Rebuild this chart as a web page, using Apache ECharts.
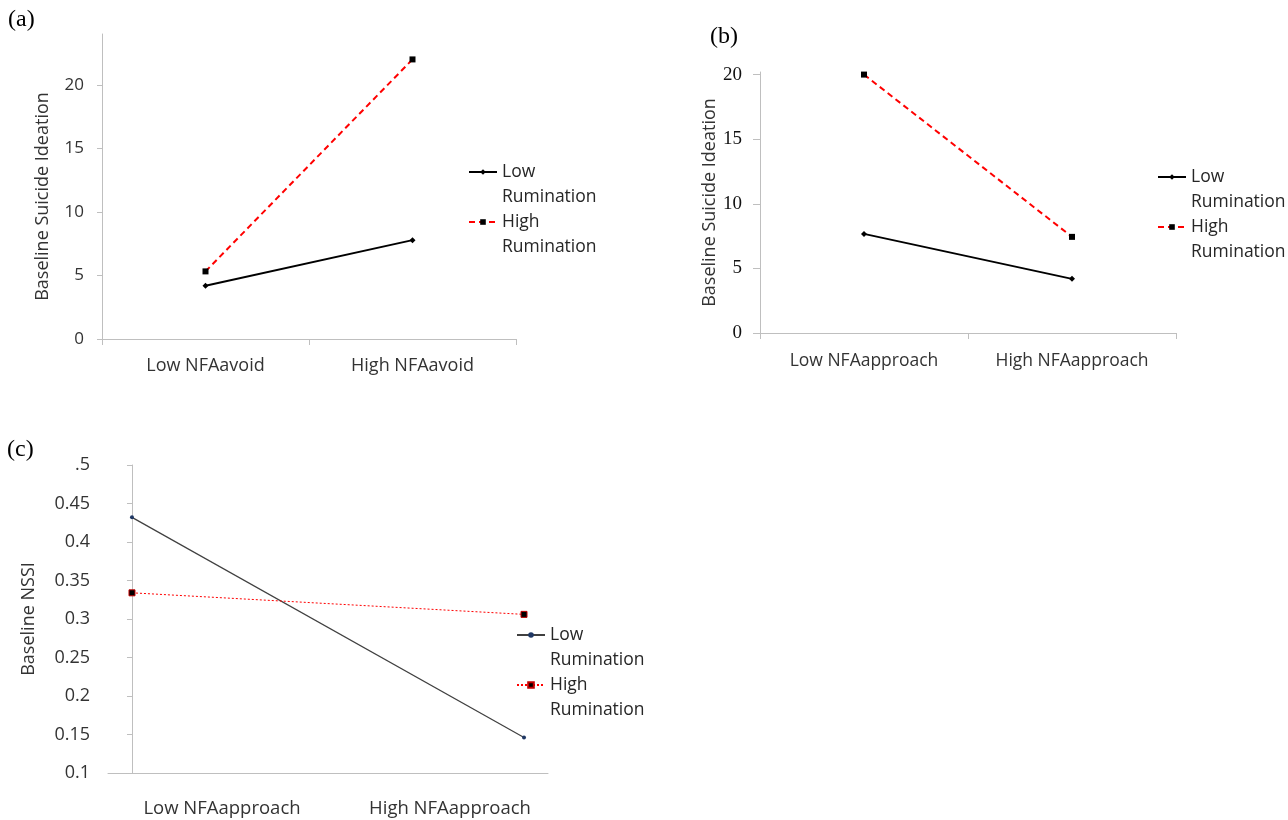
<!DOCTYPE html>
<html>
<head>
<meta charset="utf-8">
<script src="https://cdn.jsdelivr.net/npm/echarts@6/dist/echarts.min.js"></script>
<style>
html,body{margin:0;padding:0;background:#fff;}
#chart{width:1288px;height:820px;}
</style>
</head>
<body>
<div id="chart"></div>
<script>
// ---- data ----
const catsA = ['Low NFAavoid', 'High NFAavoid'];
const catsB = ['Low NFAapproach', 'High NFAapproach'];
const catsC = ['Low NFAapproach', 'High NFAapproach'];

const aLowRum = [4.19, 7.78];
const aHighRum = [5.32, 22.0];
const bLowRum = [7.67, 4.19];
const bHighRum = [20.0, 7.44];
const cLowRum = [0.432, 0.146];
const cHighRum = [0.334, 0.306];

const yTicksA = [0, 5, 10, 15, 20];
const yTicksB = [0, 5, 10, 15, 20];
const yTicksC = [0.1, 0.15, 0.2, 0.25, 0.3, 0.35, 0.4, 0.45, 0.5];
const yTickLabelsC = ['0.1', '0.15', '0.2', '0.25', '0.3', '0.35', '0.4', '0.45', '.5'];

const seriesNames = {
  aLow: 'Low\nRumination', aHigh: 'High\nRumination',
  bLow: 'Low\nRumination', bHigh: 'High\nRumination',
  cLow: 'Low\nRumination', cHigh: 'High\nRumination'
};

// ---- styles ----
const SANS = 'Open Sans';
const SERIF = 'Liberation Serif';
const AXC = '#bfbfbf';
const TXT = '#333333';

function legendFor(names, left, firstCenterY) {
  return {
    orient: 'vertical', left: left, top: firstCenterY - 37.5, padding: 0,
    itemWidth: 28, itemHeight: 7, itemGap: -25, selectedMode: false,
    data: names,
    // a blank first line puts the first text line level with the icon
    formatter: n => ' \n' + seriesNames[n],
    textStyle: {fontFamily: SANS, fontSize: 17.5, color: '#262626', lineHeight: 25}
  };
}

const chart = echarts.init(document.getElementById('chart'), null, {renderer: 'canvas'});
const cXpad = 0.0612;

const option = {
  animation: false,
  backgroundColor: '#ffffff',
  graphic: [
    {type: 'text', left: 8, top: 8, style: {text: '(a)', font: '24px "Liberation Serif"', fill: '#000'}},
    {type: 'text', left: 710, top: 25, style: {text: '(b)', font: '24px "Liberation Serif"', fill: '#000'}},
    {type: 'text', left: 7, top: 438, style: {text: '(c)', font: '24px "Liberation Serif"', fill: '#000'}}
  ],
  legend: [
    legendFor(['aLow', 'aHigh'], 468, 172),
    legendFor(['bLow', 'bHigh'], 1157, 177),
    legendFor(['cLow', 'cHigh'], 516, 635)
  ],
  grid: [
    {left: 102, top: 34, width: 414, height: 305},
    {left: 760, top: 72, width: 416, height: 261},
    {left: 108, top: 465, width: 440, height: 308}
  ],
  xAxis: [
    {
      type: 'category', gridIndex: 0, data: catsA, boundaryGap: true,
      axisLine: {lineStyle: {color: AXC, width: 1}},
      axisTick: {show: true, length: 6, lineStyle: {color: AXC}},
      axisLabel: {fontFamily: SANS, fontSize: 18, color: TXT, margin: 18, interval: 0}
    },
    {
      type: 'category', gridIndex: 1, data: catsB, boundaryGap: true,
      axisLine: {lineStyle: {color: AXC, width: 1}},
      axisTick: {show: true, length: 6, lineStyle: {color: AXC}},
      axisLabel: {fontFamily: SANS, fontSize: 17.5, color: TXT, margin: 19, interval: 0}
    },
    {
      type: 'category', gridIndex: 2, data: catsC, boundaryGap: true,
      axisLine: {lineStyle: {color: AXC, width: 1}},
      axisTick: {show: false},
      axisLabel: {
        fontFamily: SANS, fontSize: 18.5, color: TXT, margin: 26, interval: 0, hideOverlap: false,
        formatter: (v, i) => i === 0 ? '{l|' + v + '}' : '{r|' + v + '}',
        rich: {
          l: {fontFamily: SANS, fontSize: 18.5, color: TXT, padding: [0, 0, 0, 8]},
          r: {fontFamily: SANS, fontSize: 18.5, color: TXT, padding: [0, 0, 0, 24]}
        }
      }
    },
    {
      type: 'value', gridIndex: 2, min: -cXpad, max: 1 + cXpad, show: false
    }
  ],
  yAxis: [
    {
      type: 'value', gridIndex: 0, min: 0, max: 24,
      name: 'Baseline Suicide Ideation', nameLocation: 'middle', nameGap: 50,
      nameTextStyle: {fontFamily: SANS, fontSize: 18, color: TXT, padding: [0, 20, 0, 0]},
      axisLine: {show: true, lineStyle: {color: AXC}},
      axisTick: {show: true, length: 5, lineStyle: {color: AXC}, customValues: yTicksA},
      axisLabel: {fontFamily: SANS, fontSize: 17, color: TXT, margin: 18, customValues: yTicksA},
      splitLine: {show: false}
    },
    {
      type: 'value', gridIndex: 1, min: 0, max: 20.2,
      name: 'Baseline Suicide Ideation', nameLocation: 'middle', nameGap: 38,
      nameTextStyle: {fontFamily: SANS, fontSize: 18, color: TXT},
      axisLine: {show: true, lineStyle: {color: AXC}},
      axisTick: {show: true, length: 7, lineStyle: {color: AXC}, customValues: yTicksB},
      axisLabel: {fontFamily: SERIF, fontSize: 19, color: '#111', margin: 18, customValues: yTicksB},
      splitLine: {show: false}
    },
    {
      type: 'value', gridIndex: 2, min: 0.1, max: 0.5,
      name: 'Baseline NSSI', nameLocation: 'middle', nameGap: 70,
      nameTextStyle: {fontFamily: SANS, fontSize: 18, color: TXT},
      axisLine: {show: true, lineStyle: {color: AXC}},
      axisTick: {show: true, length: 5, lineStyle: {color: AXC}, customValues: yTicksC},
      axisLabel: {
        fontFamily: SANS, fontSize: 18, color: TXT, margin: 18, customValues: yTicksC,
        formatter: v => {
          const i = yTicksC.findIndex(t => Math.abs(t - v) < 1e-9);
          return i >= 0 ? yTickLabelsC[i] : '';
        }
      },
      splitLine: {show: false}
    }
  ],
  series: [
    {
      name: 'aLow', type: 'line', xAxisIndex: 0, yAxisIndex: 0, data: aLowRum,
      symbol: 'diamond', symbolSize: 6, itemStyle: {color: '#000'},
      lineStyle: {color: '#000', width: 2}
    },
    {
      name: 'aHigh', type: 'line', xAxisIndex: 0, yAxisIndex: 0, data: aHighRum,
      symbol: 'rect', symbolSize: 6, itemStyle: {color: '#000'},
      lineStyle: {color: '#ff0000', width: 2, type: [6, 4]}
    },
    {
      name: 'bLow', type: 'line', xAxisIndex: 1, yAxisIndex: 1, data: bLowRum,
      symbol: 'diamond', symbolSize: 6, itemStyle: {color: '#000'},
      lineStyle: {color: '#000', width: 2}
    },
    {
      name: 'bHigh', type: 'line', xAxisIndex: 1, yAxisIndex: 1, data: bHighRum,
      symbol: 'rect', symbolSize: 6, itemStyle: {color: '#000'},
      lineStyle: {color: '#ff0000', width: 2, type: [6, 4]}
    },
    {
      name: 'cLow', type: 'line', xAxisIndex: 3, yAxisIndex: 2,
      data: cLowRum.map((v, i) => [i, v]),
      symbol: 'circle', symbolSize: 4, itemStyle: {color: '#1f3864'},
      lineStyle: {color: '#404040', width: 1.2}
    },
    {
      name: 'cHigh', type: 'line', xAxisIndex: 3, yAxisIndex: 2,
      data: cHighRum.map((v, i) => [i, v]),
      symbol: 'rect', symbolSize: 6, itemStyle: {color: '#000', borderColor: '#c00000', borderWidth: 1},
      lineStyle: {color: '#ff0000', width: 1, type: [2, 2]}
    }
  ]
};
chart.setOption(option);
</script>
</body>
</html>
